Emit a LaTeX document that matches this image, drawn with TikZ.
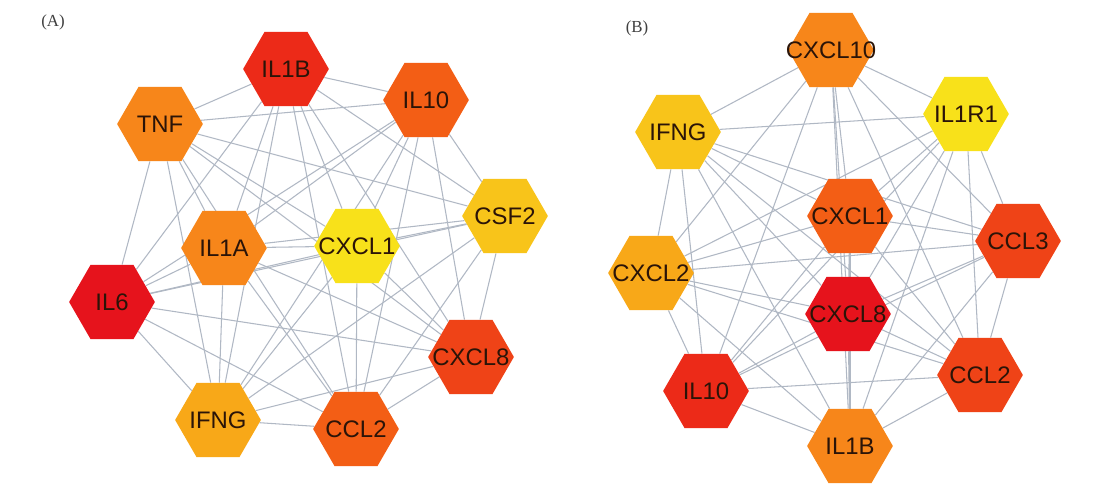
\documentclass[tikz,border=0pt]{standalone}
\usepackage{fontspec}
\setmainfont{Liberation Serif}
\setsansfont{Liberation Sans}
\usetikzlibrary{shapes.geometric,backgrounds}

\definecolor{hubtext}{HTML}{2B1408}
\definecolor{linkgray}{HTML}{B0B8C4}
\definecolor{hubred}{HTML}{E6131C}
\definecolor{hubredor}{HTML}{EC2A18}
\definecolor{hubver}{HTML}{EF4317}
\definecolor{hubdeep}{HTML}{F35E15}
\definecolor{hubor}{HTML}{F7861A}
\definecolor{hubamber}{HTML}{F8A818}
\definecolor{hubgold}{HTML}{F8C41A}
\definecolor{hubyel}{HTML}{F8E11A}

\newcommand{\gene}[1]{\makebox[0pt]{#1}}

\tikzset{
  hub/.style={regular polygon, regular polygon sides=6, minimum size=61pt,
    inner sep=0pt, fill=#1, text=hubtext,
    font=\sffamily\fontsize{17}{17}\selectfont},
  link/.style={draw=linkgray, line width=0.75pt},
  panel/.style={font=\fontsize{12}{14}\selectfont, text=black!75}
}

\begin{document}
\begin{tikzpicture}[x=0.25mm,y=-0.25mm]
  % panel A
  \node[panel] (labA) at (53,22) {(A)};
  \node[hub=hubredor] (aIL1B) at (286,69) {\gene{IL1B}};
  \node[hub=hubdeep] (aIL10) at (426,100) {\gene{IL10}};
  \node[hub=hubor] (aTNF) at (160,124) {\gene{TNF}};
  \node[hub=hubgold] (aCSF2) at (505,216) {\gene{CSF2}};
  \node[hub=hubor] (aIL1A) at (224,248) {\gene{IL1A}};
  \node[hub=hubyel] (aCXCL1) at (357,246) {\gene{CXCL1}};
  \node[hub=hubred] (aIL6) at (112,302) {\gene{IL6}};
  \node[hub=hubver] (aCXCL8) at (471,357) {\gene{CXCL8}};
  \node[hub=hubamber] (aIFNG) at (218,420) {\gene{IFNG}};
  \node[hub=hubdeep] (aCCL2) at (356,429) {\gene{CCL2}};

  % panel B
  \node[panel] (labB) at (637,28) {(B)};
  \node[hub=hubor] (bCXCL10) at (831,50) {\gene{CXCL10}};
  \node[hub=hubyel] (bIL1R1) at (966,114) {\gene{IL1R1}};
  \node[hub=hubgold] (bIFNG) at (678,132) {\gene{IFNG}};
  \node[hub=hubdeep] (bCXCL1) at (850,216) {\gene{CXCL1}};
  \node[hub=hubver] (bCCL3) at (1018,241) {\gene{CCL3}};
  \node[hub=hubamber] (bCXCL2) at (651,273) {\gene{CXCL2}};
  \node[hub=hubred] (bCXCL8) at (848,314) {\gene{CXCL8}};
  \node[hub=hubver] (bCCL2) at (980,375) {\gene{CCL2}};
  \node[hub=hubredor] (bIL10) at (706,391) {\gene{IL10}};
  \node[hub=hubor] (bIL1B) at (850,446) {\gene{IL1B}};

  \def\netA{aIL1B,aIL10,aTNF,aCSF2,aIL1A,aCXCL1,aIL6,aCXCL8,aIFNG,aCCL2}
  \def\netB{bCXCL10,bIL1R1,bIFNG,bCXCL1,bCCL3,bCXCL2,bCXCL8,bCCL2,bIL10,bIL1B}

  \begin{scope}[on background layer]
    \fill[white] (0,0) rectangle (1116,483);
    \foreach \u [count=\i] in \netA {
      \foreach \v [count=\j] in \netA {
        \ifnum\j>\i \draw[link] (\u) -- (\v); \fi
      }
    }
    \foreach \u [count=\i] in \netB {
      \foreach \v [count=\j] in \netB {
        \ifnum\j>\i \draw[link] (\u) -- (\v); \fi
      }
    }
  \end{scope}
\end{tikzpicture}
\end{document}
